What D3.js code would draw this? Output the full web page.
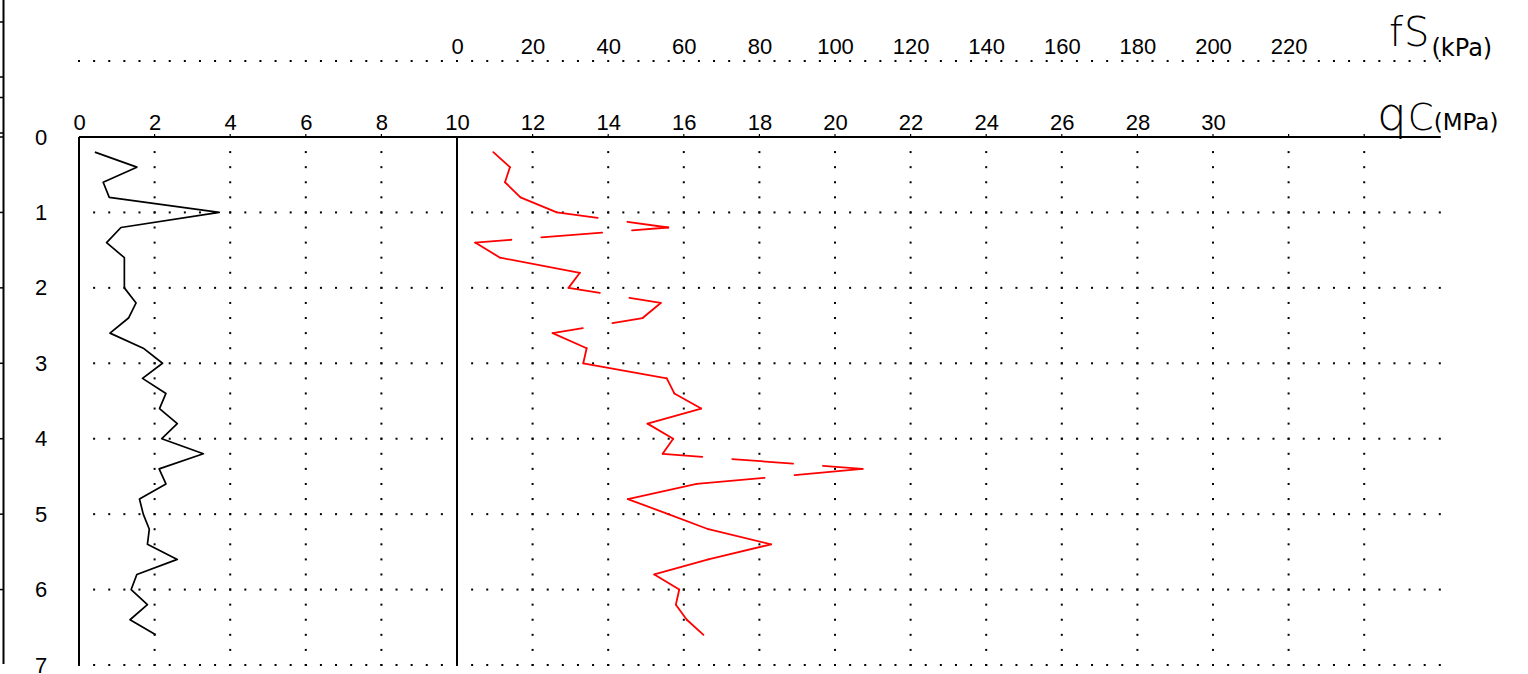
<!DOCTYPE html>
<html><head><meta charset="utf-8">
<script src="https://cdn.jsdelivr.net/npm/d3@7"></script>
<style>body{margin:0;background:#fff;overflow:hidden} svg{display:block}</style>
</head><body><svg id="c" width="1528" height="674"></svg>
<script>
// ---- data ----
const depth = [0.2,0.4,0.6,0.8,1.0,1.2,1.4,1.6,1.8,2.0,2.2,2.4,2.6,2.8,3.0,3.2,3.4,3.6,3.8,4.0,4.2,4.4,4.6,4.8,5.0,5.2,5.4,5.6,5.8,6.0,6.2,6.4,6.6];
const qcValues = [0.42,1.53,0.64,0.80,3.71,1.11,0.73,1.20,1.20,1.20,1.51,1.31,0.82,1.70,2.21,1.68,2.30,2.13,2.60,2.19,3.29,2.12,2.30,1.60,1.70,1.86,1.81,2.60,1.53,1.38,1.81,1.35,2.03];
const fsValues = [9.6,14.0,12.7,16.8,26.4,55.9,4.8,11.4,32.5,29.5,53.9,49.1,25.3,34.3,33.4,55.5,57.5,64.6,50.4,57.2,54.4,107.3,63.4,45.2,55.9,66.5,83.1,66.5,52.2,58.8,57.9,60.8,65.2];
const qcTicks = [0,2,4,6,8,10,12,14,16,18,20,22,24,26,28,30];
const qcGridCols = [2,4,6,8,12,14,16,18,20,22,24,26,28,30,32,34];
const fsTicks = [0,20,40,60,80,100,120,140,160,180,200,220];
const depthTicks = [0,1,2,3,4,5,6,7];
const edgeTicksY = [22,77,97.5,133];

// ---- scales ----
const y = d3.scaleLinear().domain([0,7]).range([137,665]);
const xQc = d3.scaleLinear().domain([0,30]).range([79,1213]);
const xFs = d3.scaleLinear().domain([0,200]).range([457,1213]);
const qcEnd = 36;

const svg = d3.select('#c');
const font = '"Liberation Sans", Arial, sans-serif';

// left edge axis
svg.append('line').attr('x1',3.5).attr('x2',3.5).attr('y1',0).attr('y2',664).attr('stroke','#000').attr('stroke-width',2);
const edgeYs = edgeTicksY.concat(depthTicks.slice(0,7).map(d=>y(d)));
svg.selectAll('.et').data(edgeYs).enter().append('line')
  .attr('x1',0).attr('x2',4).attr('y1',d=>d).attr('y2',d=>d).attr('stroke','#000').attr('stroke-width',1.5);

// dotted grid
const dotG = svg.append('g').attr('fill','#000');
const rowXs = d3.range(0, qcEnd+0.001, 0.4);
function hDots(yy){
  dotG.selectAll(null).data(rowXs).enter().append('rect')
    .attr('x',d=>xQc(d)-1).attr('y',yy-1).attr('width',2).attr('height',2);
}
depthTicks.slice(1).forEach(d=>hDots(y(d)));
hDots(61);
const colYs = d3.range(0.2, 7.001, 0.2);
qcGridCols.forEach(c=>{
  dotG.selectAll(null).data(colYs).enter().append('rect')
    .attr('x',xQc(c)-1).attr('y',d=>y(d)-1).attr('width',2).attr('height',2);
});

// frame
svg.append('line').attr('x1',xQc(0)).attr('x2',xQc(qcEnd)+1).attr('y1',y(0)).attr('y2',y(0)).attr('stroke','#000').attr('stroke-width',2);
svg.append('line').attr('x1',xQc(0)).attr('x2',xQc(0)).attr('y1',y(0)).attr('y2',y(7)).attr('stroke','#000').attr('stroke-width',2);
svg.append('line').attr('x1',xQc(10)).attr('x2',xQc(10)).attr('y1',y(0)).attr('y2',y(7)).attr('stroke','#000').attr('stroke-width',2);
svg.selectAll('.tt').data(qcGridCols).enter().append('line')
  .attr('x1',d=>xQc(d)).attr('x2',d=>xQc(d)).attr('y1',y(0)-3).attr('y2',y(0)).attr('stroke','#000').attr('stroke-width',1.2);

// qc axis labels
const qcAxis = d3.axisTop(xQc).tickValues(qcTicks).tickSize(0).tickPadding(0).tickFormat(d3.format('d'));
const gq = svg.append('g').attr('transform','translate(0,130)').call(qcAxis);
gq.select('.domain').remove();
gq.selectAll('text').attr('font-family',font).attr('font-size',22).attr('fill','#000').attr('dy',0);

// fs axis labels
const fsAxis = d3.axisTop(xFs).tickValues(fsTicks).tickSize(0).tickPadding(0).tickFormat(d3.format('d'));
const gf = svg.append('g').attr('transform','translate(0,53.5)').call(fsAxis);
gf.select('.domain').remove();
gf.selectAll('text').attr('font-family',font).attr('font-size',22).attr('fill','#000').attr('dy',0);

// depth labels
svg.selectAll('.dl').data(depthTicks).enter().append('text')
  .attr('x',41).attr('y',d=>y(d)+7.5).attr('text-anchor','middle')
  .attr('font-family',font).attr('font-size',22).text(d=>d);

// axis titles
const tf = svg.append('text').attr('x',1389).attr('y',46).attr('font-family','"DejaVu Sans", sans-serif').attr('font-weight',200);
tf.append('tspan').attr('font-size',40).text('f');
tf.append('tspan').attr('font-size',40).attr('dx',1).text('S');
tf.append('tspan').attr('font-size',24).attr('font-weight',400).attr('dx',2).attr('dy',10).text('(kPa)');

const tq = svg.append('text').attr('x',1377).attr('y',130).attr('font-family','"DejaVu Sans", sans-serif').attr('font-weight',200);
tq.append('tspan').attr('font-size',47).text('q');
tq.append('tspan').attr('font-size',37).attr('dx',1).text('C');
tq.append('tspan').attr('font-size',23).attr('font-weight',400).text('(MPa)');

// qc line (black)
const qcPts = depth.map((d,i)=>[xQc(qcValues[i]), y(d)]);
svg.append('path').attr('d', d3.line()(qcPts)).attr('fill','none').attr('stroke','#000').attr('stroke-width',1.7).attr('stroke-linejoin','round');

// fs line (red, long-dash fitted per segment)
const fsPts = depth.map((d,i)=>[xFs(fsValues[i]), y(d)]);
const DASH = 61, GAP = 30;
const segs = d3.pairs(fsPts);
svg.selectAll('.fs').data(segs).enter().append('line')
  .attr('x1',s=>s[0][0]).attr('y1',s=>s[0][1]).attr('x2',s=>s[1][0]).attr('y2',s=>s[1][1])
  .attr('stroke','#ff0000').attr('stroke-width',1.8).attr('stroke-linecap','round')
  .attr('stroke-dasharray', s=>{
    const L = Math.hypot(s[1][0]-s[0][0], s[1][1]-s[0][1]);
    const n = Math.floor(L/(DASH+GAP));
    if(n<1) return null;
    const e = (L - n*GAP - (n-1)*DASH)/2;
    const arr=[e];
    for(let k=1;k<n;k++){arr.push(GAP,DASH);}
    arr.push(GAP,e+2,10000);
    return arr.join(',');
  });
</script>
</body></html>
